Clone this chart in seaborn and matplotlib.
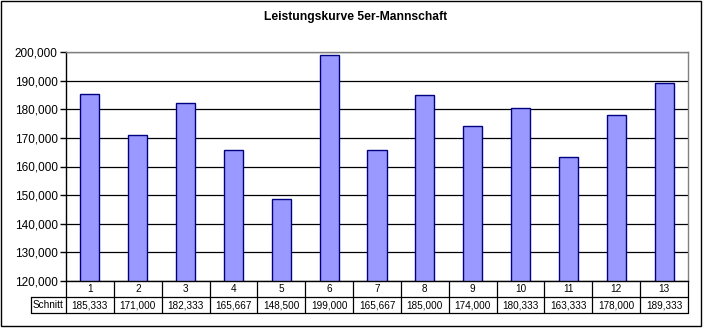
import matplotlib
matplotlib.use("Agg")
import matplotlib.pyplot as plt
import matplotlib.transforms as mtransforms
from matplotlib.patches import Rectangle
from matplotlib.ticker import FuncFormatter, MultipleLocator
import pandas as pd
import seaborn as sns

# Match rounds and their average scores
rounds = ["1", "2", "3", "4", "5", "6", "7", "8", "9", "10", "11", "12", "13"]
schnitt = [185333, 171000, 182333, 165667, 148500, 199000, 165667,
           185000, 174000, 180333, 163333, 178000, 189333]
row_label = "Schnitt"
title = "Leistungskurve 5er-Mannschaft"
y_min, y_max, y_step = 120000, 200000, 10000

sns.set_theme(style="white")
plt.rcParams["font.family"] = ["Liberation Sans", "DejaVu Sans"]

W, H = 705, 329
fig = plt.figure(figsize=(W / 100, H / 100), dpi=100)
fig.patch.set_facecolor("white")

# plot area in pixels
left_px, right_px, top_px, bottom_px = 66, 688, 52, 281
ax = fig.add_axes([left_px / W, 1 - bottom_px / H,
                   (right_px - left_px) / W, (bottom_px - top_px) / H])

df = pd.DataFrame({"Runde": rounds, "Schnitt": schnitt})
sns.barplot(data=df, x="Runde", y="Schnitt", ax=ax, width=0.4,
            color="#9999FF", saturation=1, edgecolor="#000080", linewidth=1)

ax.set_ylim(y_min, y_max)
ax.set_xlim(-0.5, len(rounds) - 0.5)
ax.yaxis.set_major_locator(MultipleLocator(y_step))
ax.yaxis.set_major_formatter(FuncFormatter(lambda v, p: f"{int(v):,}"))
ax.set_xlabel("")
ax.set_ylabel("")
ax.set_xticks([])
ax.tick_params(axis="y", which="major", left=True, length=4, width=1,
               color="black", labelsize=8.5, labelcolor="black", pad=2)
ax.grid(axis="y", color="black", linewidth=0.9)
ax.set_axisbelow(True)
for sp in ax.spines.values():
    sp.set_visible(True)
    sp.set_linewidth(1)
for side in ("top", "right"):
    ax.spines[side].set_color("#808080")
ax.spines["left"].set_color("black")
ax.spines["bottom"].set_color("black")
ax.spines["top"].set_zorder(5)

# data table under the axis
ax_h_px = bottom_px - top_px
row_h = 16 / ax_h_px
label_left = (31 - left_px) / (right_px - left_px)
trans = mtransforms.blended_transform_factory(ax.transData, ax.transAxes)
line_kw = dict(color="black", linewidth=0.9, clip_on=False)
n = len(rounds)
# horizontal lines
ax.plot([-0.5, n - 0.5], [-row_h, -row_h], transform=trans, **line_kw)
ax.plot([-0.5, n - 0.5], [-2 * row_h, -2 * row_h], transform=trans, **line_kw)
ax.plot([label_left, 0], [-row_h, -row_h], transform=ax.transAxes, **line_kw)
ax.plot([label_left, 0], [-2 * row_h, -2 * row_h], transform=ax.transAxes, **line_kw)
ax.plot([label_left, label_left], [-row_h, -2 * row_h], transform=ax.transAxes, **line_kw)
# vertical lines
for i in range(n + 1):
    ax.plot([i - 0.5, i - 0.5], [0, -2 * row_h], transform=trans, **line_kw)
for i, (r, v) in enumerate(zip(rounds, schnitt)):
    ax.text(i, -0.5 * row_h, r, transform=trans, ha="center", va="center",
            fontsize=7.2, color="black")
    ax.text(i, -1.5 * row_h, f"{v:,}", transform=trans, ha="center", va="center",
            fontsize=7.2, color="black")
ax.text((label_left + 0) / 2, -1.5 * row_h, row_label, transform=ax.transAxes,
        ha="center", va="center", fontsize=7.2, color="black")

fig.text(356 / W, 1 - 17 / H, title, ha="center", va="center",
         fontsize=8.7, fontweight="bold", color="black")

fig.add_artist(Rectangle((1.0 / W, 3.0 / H), 700 / W, 325 / H,
                         transform=fig.transFigure, fill=False,
                         edgecolor="black", linewidth=1))

fig.savefig("out.png", dpi=100, facecolor="white")
